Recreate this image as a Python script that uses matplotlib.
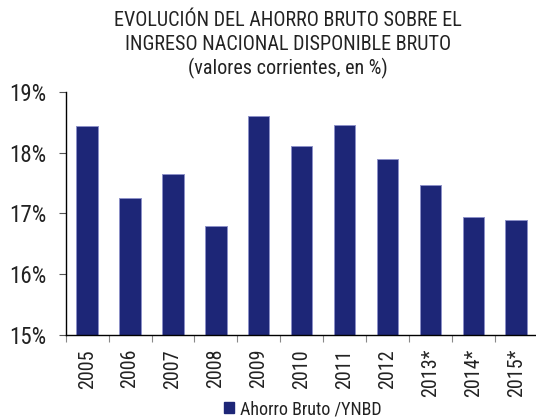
import matplotlib
matplotlib.use("Agg")
import matplotlib.pyplot as plt
from matplotlib.patches import Patch
from matplotlib.ticker import FixedLocator, FuncFormatter

plt.rcParams['font.family'] = ['Roboto Condensed', 'Liberation Sans', 'DejaVu Sans']
plt.rcParams['font.weight'] = 'normal'

categories = ["2005", "2006", "2007", "2008", "2009", "2010", "2011", "2012", "2013*", "2014*", "2015*"]
values = [18.44, 17.26, 17.64, 16.80, 18.60, 18.10, 18.46, 17.90, 17.46, 16.94, 16.89]
yticks = [15, 16, 17, 18, 19]
series_name = "Ahorro Bruto /YNBD"
title_lines = ["EVOLUCIÓN DEL AHORRO BRUTO SOBRE EL",
               "INGRESO NACIONAL DISPONIBLE BRUTO",
               "(valores corrientes, en %)"]

W, H = 536, 418
fig = plt.figure(figsize=(W / 100, H / 100), dpi=100)
ax = fig.add_axes([65.7 / W, 1 - 335 / H, (537.6 - 65.7) / W, (335 - 91.7) / H])

bar_color = '#1d2677'
x = list(range(len(categories)))
ax.bar(x, [v - 15 for v in values], bottom=15, width=0.5, color=bar_color,
       edgecolor='#8c90c8', linewidth=0.7)

ax.set_xlim(-0.5, len(categories) - 0.5)
ax.set_ylim(15, 19)
ax.set_yticks(yticks)
ax.yaxis.set_major_formatter(FuncFormatter(lambda v, p: f"{int(round(v))}%"))
ax.set_xticks(x)
ax.set_xticklabels(categories, rotation=90)
ax.xaxis.set_minor_locator(FixedLocator([i - 0.5 for i in range(len(categories) + 1)]))

for s in ['top', 'right']:
    ax.spines[s].set_visible(False)
for s in ['left', 'bottom']:
    ax.spines[s].set_color('black')
    ax.spines[s].set_linewidth(1.0)

ax.tick_params(axis='y', length=5, width=0.8, color='#555555', pad=9, labelsize=16.5, labelcolor='#222222')
ax.tick_params(axis='x', which='major', length=0, pad=10, labelsize=14.5, labelcolor='#222222')
ax.tick_params(axis='x', which='minor', length=5, width=0.8, color='#888888')

fig.text(288 / W, 1 - 21 / H, title_lines[0], ha='center', va='center', fontsize=14.5, color='#222222')
fig.text(288 / W, 1 - 44 / H, title_lines[1], ha='center', va='center', fontsize=14.5, color='#222222')
fig.text(288 / W, 1 - 68 / H, title_lines[2], ha='center', va='center', fontsize=14.5, color='#222222')

fig.legend(handles=[Patch(facecolor=bar_color, edgecolor=bar_color, label=series_name)],
           loc='center', bbox_to_anchor=(303 / W, 1 - 409 / H), frameon=False,
           fontsize=13, handlelength=0.55, handleheight=0.55, handletextpad=0.35,
           borderaxespad=0, labelcolor='#222222')

fig.savefig("out.png", dpi=100)
